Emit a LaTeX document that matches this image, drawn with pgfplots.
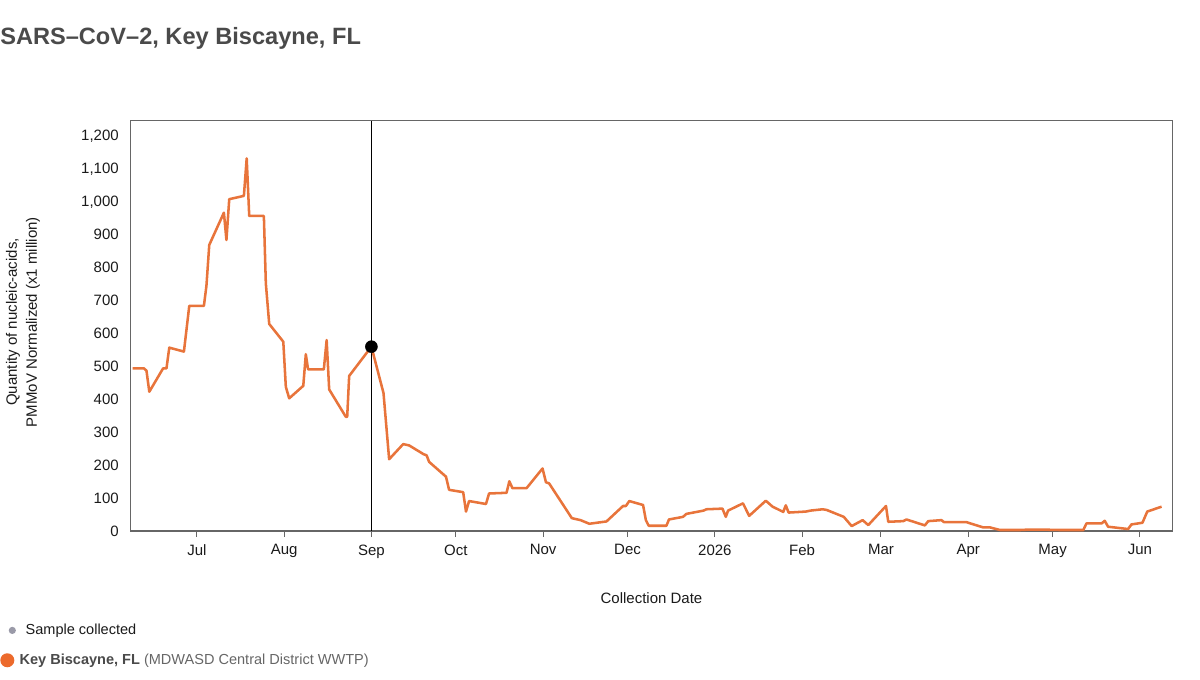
\documentclass[border=0pt]{standalone}
\usepackage{pgfplots}
\pgfplotsset{compat=1.18}
\usepackage{pgfplotstable}
\usepackage{fontspec}
\setmainfont{Liberation Sans}
\definecolor{lineor}{HTML}{E8743B}
\definecolor{dotor}{HTML}{EC6A2C}
\definecolor{titlegray}{HTML}{4A4A4A}
\definecolor{framegray}{HTML}{666666}
\definecolor{legdot}{HTML}{9A9AA8}
\definecolor{txt}{HTML}{1A1A1A}

% day index: 0 = 1 Jul 2025
\pgfplotstableread{
day val
-22.8 494
-18.8 494
-17.9 487
-16.9 423
-12.0 494
-10.8 494
-9.8 557
-4.6 545
-2.7 684
2.5 684
3.4 745
4.4 869
9.6 967
10.5 884
11.5 1008
16.7 1018
17.7 1132
18.6 957
23.8 957
24.5 752
25.7 629
30.7 575
31.6 438
32.8 403
37.8 441
38.7 537
39.5 491
45.1 491
46.1 580
47.0 430
52.9 347
53.4 347
54.1 471
62.0 560
66.3 419
68.3 218
73.3 264
75.4 260
80.6 233
81.6 230
82.5 210
88.5 165
89.6 125
94.6 118
95.6 59
96.7 91
102.7 82
103.8 114
110.0 116
111.0 151
112.1 130
117.1 130
122.8 190
124.0 148
125.1 145
133.2 39
136.3 33
139.4 22
145.5 29
151.4 76
152.4 76
153.6 91
158.5 79
159.5 33
160.5 16
166.8 16
167.7 35
172.7 43
173.9 52
180.0 62
181.0 66
186.7 68
187.9 43
188.7 62
194.0 84
196.2 46
202.1 92
204.5 74
208.3 58
209.2 78
210.2 56
216.3 59
218.0 62
222.3 66
223.7 64
229.8 43
232.6 15
236.5 33
238.5 18
244.8 76
245.6 28
250.9 30
252.1 35
258.6 17
259.8 30
264.5 33
265.4 27
273.4 27
274.8 23
279.3 11
281.7 11
285.3 3
292.4 3
294.7 4
301.8 4
306.6 3
314.9 3
316.0 23
321.4 23
322.5 31
323.7 13
330.8 6
332.0 20
335.9 25
337.6 59
342.7 74
}\dataKB

\pgfplotstableread{
day val
62.0 560
}\dataSel

\begin{document}
\begin{tikzpicture}[x=0.75pt,y=0.75pt]
\useasboundingbox (0,0) rectangle (1200,679);
\node[anchor=base west, inner sep=0pt, font=\fontsize{17.7pt}{20pt}\selectfont\bfseries, text=titlegray] at (0,634) {SARS–CoV–2, Key Biscayne, FL};
\begin{axis}[
  at={(98.25pt,111pt)}, anchor=south west,
  scale only axis, width=780.75pt, height=307.5pt,
  xmin=-23.4, xmax=346.4, ymin=0, ymax=1245.5,
  xtick={0,31,62,92,123,153,184,215,243,274,304,335},
  xticklabels={Jul,Aug,Sep,Oct,Nov,Dec,2026,Feb,Mar,Apr,May,Jun},
  ytick={0,100,...,1200},
  scaled y ticks=false,
  /pgf/number format/assume math mode=true,
  /pgf/number format/1000 sep={,},
  tick label style={font=\fontsize{11.25pt}{13pt}\selectfont, text=txt},
  yticklabel style={anchor=east, inner sep=0pt, xshift=-4.5pt},
  xticklabel style={anchor=north, inner sep=0pt, yshift=-5.5pt},
  xtick pos=bottom, ytick pos=left,
  tick align=outside,
  major tick length=4.5pt,
  xtick style={draw=framegray, line width=0.75pt},
  ytick style={draw=none},
  axis line style={draw=framegray, line width=0.75pt},
  ylabel={Quantity of nucleic-acids,\\PMMoV Normalized (x1 million)},
  ylabel style={align=center, font=\fontsize{11.25pt}{15pt}\selectfont, text=txt, at={(rel axis cs:0,0.5)}, anchor=center, yshift=81pt, xshift=3pt},
  xlabel={Collection Date},
  xlabel style={font=\fontsize{11.25pt}{13pt}\selectfont, text=txt, at={(rel axis cs:0.5,0)}, anchor=base, yshift=-54pt},
  clip=false,
  legend cell align=left,
  legend style={draw=none, fill=none, at={(-0.1258,-0.220)}, anchor=north west, inner sep=0pt, row sep=9pt, column sep=2pt, font=\fontsize{10.9pt}{13pt}\selectfont},
]
\addlegendimage{legend image code/.code={\path[draw=none,fill=none] (0pt,-3pt) rectangle (15pt,3pt); \fill[legdot, draw=none] (9pt,0pt) circle (2.7pt);}}
\addlegendentry{\textcolor{txt}{Sample collected}}
\addlegendimage{legend image code/.code={\path[draw=none,fill=none] (0pt,-3pt) rectangle (15pt,3pt); \fill[dotor, draw=none] (5.25pt,0pt) circle (5.25pt);}}
\addlegendentry{\hspace*{-4.5pt}\textcolor{titlegray}{\textbf{Key Biscayne, FL}} \textcolor{framegray}{(MDWASD Central District WWTP)}}
\draw[framegray, line width=1.5pt] (rel axis cs:0,0) -- (rel axis cs:1,0);
\draw[black, line width=0.9pt] (axis cs:62,0) -- (axis cs:62,1245.5);
\addplot[lineor, line width=1.9pt, line join=round, mark=none, forget plot] table[x=day,y=val] {\dataKB};
\addplot[only marks, mark=*, mark size=4.5pt, black, forget plot] table[x=day,y=val] {\dataSel};
\end{axis}
\end{tikzpicture}
\end{document}
